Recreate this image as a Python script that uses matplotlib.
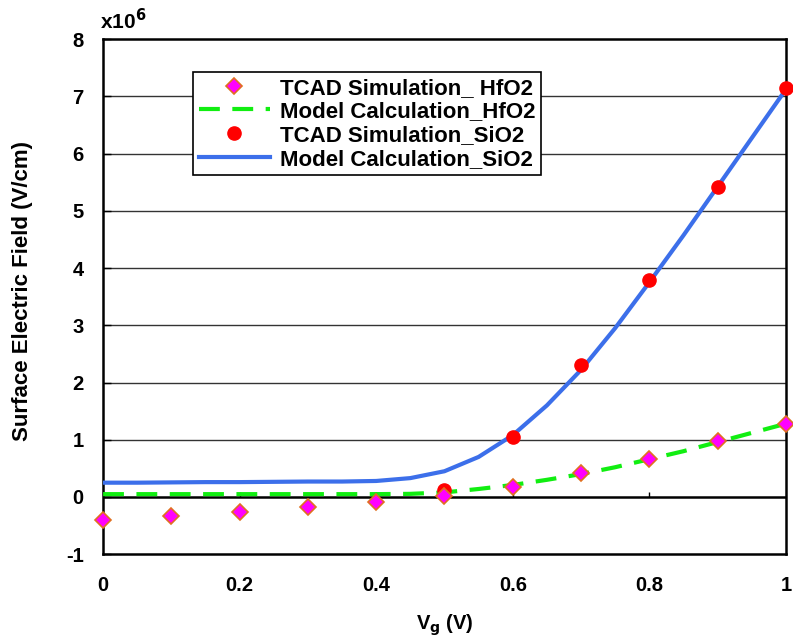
import numpy as np
from matplotlib import pyplot as plt
from matplotlib.lines import Line2D

plt.rcParams['font.family'] = ['Liberation Sans', 'DejaVu Sans']
plt.rcParams['font.weight'] = 'bold'
plt.rcParams['axes.unicode_minus'] = False

# TCAD points
vg_tcad = [0, 0.1, 0.2, 0.3, 0.4, 0.5, 0.6, 0.7, 0.8, 0.9, 1.0]
tcad_hfo2 = [-0.41, -0.33, -0.26, -0.18, -0.09, 0.01, 0.18, 0.42, 0.67, 0.97, 1.27]
vg_tcad_sio2 = [0.5, 0.6, 0.7, 0.8, 0.9, 1.0]
tcad_sio2 = [0.12, 1.04, 2.30, 3.79, 5.42, 7.15]

# model curves
vg_model = [0, 0.05, 0.1, 0.15, 0.2, 0.25, 0.3, 0.35, 0.4, 0.45, 0.5,
            0.55, 0.6, 0.65, 0.7, 0.75, 0.8, 0.85, 0.9, 0.95, 1.0]
model_sio2 = [0.25, 0.25, 0.255, 0.26, 0.26, 0.265, 0.27, 0.27, 0.28, 0.33, 0.45,
              0.70, 1.08, 1.60, 2.22, 2.95, 3.75, 4.57, 5.42, 6.27, 7.12]
model_hfo2 = [0.05, 0.05, 0.05, 0.05, 0.05, 0.05, 0.05, 0.05, 0.05, 0.055, 0.08,
              0.14, 0.21, 0.30, 0.40, 0.52, 0.66, 0.80, 0.96, 1.12, 1.28]

xticks = [0, 0.2, 0.4, 0.6, 0.8, 1]
xticklabels = ['0', '0.2', '0.4', '0.6', '0.8', '1']
yticks = list(range(-1, 9))

fig = plt.figure(figsize=(7.93, 6.4), dpi=100)
ax = fig.add_axes([0.130, 0.134, 0.861, 0.805])

for y in yticks:
    if y not in (0, -1, 8):
        ax.axhline(y, color='#333333', lw=1.0, zorder=1)
ax.axhline(0, color='black', lw=1.8, zorder=1)
ax.vlines(xticks[1:-1], 0, 0.09, color='black', lw=1.0, zorder=1)

ax.plot(vg_model, model_sio2, color='#3c6fea', lw=3, zorder=3)
ax.plot(vg_model, model_hfo2, color='#11ee11', lw=3, dashes=(5, 3), zorder=3)
ax.plot(vg_tcad_sio2, tcad_sio2, 'o', color='#ff0000', ms=9.5, mec='#ff0000',
        zorder=4, clip_on=False)
ax.plot(vg_tcad, tcad_hfo2, 'D', color='#ff00ff', ms=8.5, mec='#e07020', mew=1.2,
        zorder=5, clip_on=False)

ax.set_xlim(0, 1)
ax.set_ylim(-1, 8)
ax.set_xticks(xticks)
ax.set_xticklabels(xticklabels)
ax.set_yticks(yticks)
ax.tick_params(axis='x', length=0, pad=16, labelsize=14.5)
ax.tick_params(axis='y', direction='in', length=6, width=1, pad=14, labelsize=14.5)
for s in ax.spines.values():
    s.set_color('black')
    s.set_linewidth(1.8)

ax.set_xlabel('V$_\\mathbf{g}$ (V)', fontsize=14.5, fontweight='bold', labelpad=12)
ax.set_ylabel('Surface Electric Field (V/cm)', fontsize=16, fontweight='bold')
ax.yaxis.set_label_coords(-0.103, 0.51)
ax.text(-0.005, 1.012, 'x10$^\\mathbf{6}$', transform=ax.transAxes, fontsize=15,
        fontweight='bold', ha='left', va='bottom')

handles = [
    Line2D([], [], ls='none', marker='D', color='#ff00ff', mec='#e07020', ms=8.5, mew=1.2),
    Line2D([], [], color='#11ee11', lw=3, dashes=(5, 3)),
    Line2D([], [], ls='none', marker='o', color='#ff0000', ms=9.5),
    Line2D([], [], color='#3c6fea', lw=3),
]
labels = ['TCAD Simulation_ HfO2', 'Model Calculation_HfO2',
          'TCAD Simulation_SiO2', 'Model Calculation_SiO2']
leg = ax.legend(handles, labels, loc='upper left', bbox_to_anchor=(0.132, 0.936),
                borderaxespad=0, fancybox=False, framealpha=1, edgecolor='black',
                prop={'size': 16, 'weight': 'bold'}, handlelength=3.2,
                labelspacing=0.12, borderpad=0.25, handletextpad=0.45)
leg.get_frame().set_linewidth(1.2)
leg.set_zorder(6)

fig.savefig('out.png', dpi=100)
